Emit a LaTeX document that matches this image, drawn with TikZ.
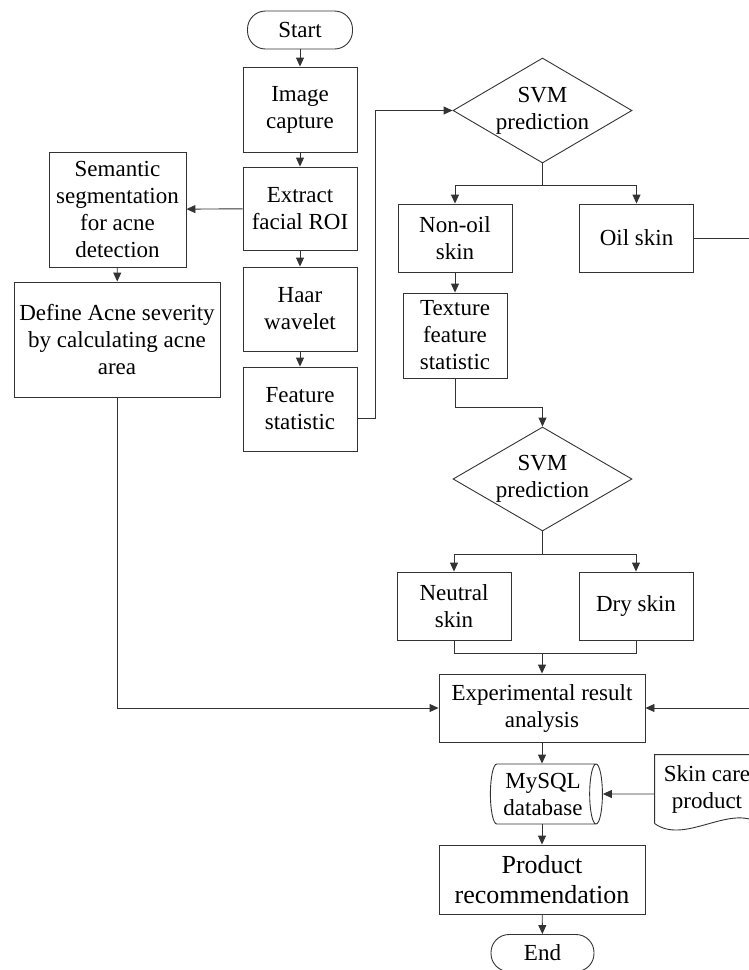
\documentclass[tikz,border=0pt]{standalone}
\usepackage{fontspec}
\setmainfont{Liberation Serif}
\usetikzlibrary{shapes.geometric,arrows.meta}
\tikzset{
  txt/.style={font=\fontsize{23}{27}\selectfont},
  block/.style={draw, rectangle, txt, align=center, inner sep=0pt, minimum width=114pt, minimum height=84pt},
  wideblock/.style={block, minimum width=206pt},
  term/.style={draw, rectangle, txt, rounded corners=18pt, inner sep=0pt, minimum width=105pt, minimum height=38pt},
  decision/.style={draw, diamond, txt, aspect=1.7, align=center, inner sep=0pt, minimum width=179pt, minimum height=105pt},
  store/.style={draw, cylinder, txt, align=center, inner sep=0pt, shape aspect=0.3, minimum width=60pt, minimum height=112pt}
}
\begin{document}
\begin{tikzpicture}[x=1pt, y=-1pt, line width=0.9pt, draw=black!80, >={Triangle[length=9pt,width=8pt]}]
\useasboundingbox (0,0) rectangle (748,970);
% 主流程
\node[term] (start) at (300,30) {Start};
\node[block, minimum height=85pt] (capture) at (300,109.5) {Image\\capture};
\node[block, minimum height=83pt] (extract) at (300,208.5) {Extract\\facial ROI};
\node[block] (haar) at (300,309) {Haar\\wavelet};
\node[block] (feat) at (300,409) {Feature\\statistic};
% 痤疮分支
\node[block, minimum width=137pt, minimum height=115pt] (semseg) at (117.5,209.5) {Semantic\\segmentation\\for acne\\detection};
\node[wideblock, minimum height=115pt] (define) at (117,339.5) {Define Acne severity\\by calculating acne\\area};
% 肤质判断
\node[decision] (svm1) at (542.5,110.5) {SVM\\prediction};
\node[block, minimum height=68pt] (nonoil) at (455,238) {Non-oil\\skin};
\node[block, minimum height=68pt] (oil) at (636.5,238) {Oil skin};
\node[block, minimum width=104pt, minimum height=85pt] (texture) at (455,335.5) {Texture\\feature\\statistic};
\node[decision, minimum height=104pt] (svm2) at (542.5,479) {SVM\\prediction};
\node[block, minimum height=68pt] (neutral) at (454,606) {Neutral\\skin};
\node[block, minimum height=68pt] (dry) at (636,606) {Dry skin};
% 结果与推荐
\node[wideblock, minimum height=68pt] (exper) at (542,708) {Experimental result\\analysis};
\node[store] (mysql) at (543,794) {MySQL\\database};
\node[txt, align=center, minimum width=104pt, minimum height=68pt, inner sep=0pt] (skin) at (707,789) {Skin care\\product};
\node[wideblock, minimum height=69pt, font=\fontsize{26}{30}\selectfont] (product) at (542,879.5) {Product\\recommendation};
\node[term, minimum width=103pt, minimum height=37pt] (endn) at (542.5,953) {End};
% 文档形状
\draw (skin.south west) -- (skin.north west) -- (skin.north east) -- (skin.south east)
  .. controls +(-30,-20) and +(30,22) .. (skin.south west);
% 连线
\draw[->] (start) -- (capture);
\draw[->] (capture) -- (extract);
\draw[->] (extract) -- (haar);
\draw[->] (haar) -- (feat);
\draw[->] (extract) -- (semseg);
\draw[->] (semseg) -- (define);
\draw[->] ([yshift=-9pt]feat.east) -- ++(18,0) |- (svm1.west);
\draw[->] (svm1.south) -- ++(0,22) -| (nonoil.north);
\draw[->] (svm1.south) -- ++(0,22) -| (oil.north);
\draw[->] (nonoil) -- (texture);
\draw[->] (texture.south) -- ++(0,29) -| (svm2.north);
\draw[->] (svm2.south) -- ++(0,23) -| (neutral.north);
\draw[->] (svm2.south) -- ++(0,23) -| (dry.north);
\draw (neutral.south) -- ++(0,13) coordinate (jl) -| (dry.south);
\draw[->] (jl -| exper.north) -- (exper.north);
\draw[->] (define.south) |- (exper.west);
\draw[->] (oil.east) -- ++(64,0) |- (exper.east);
\draw[->] (exper.south) -- (exper.south |- mysql.north);
\draw[->] ([yshift=-5pt]skin.west) -- (mysql.east);
\draw[->] (exper.south |- mysql.south) -- (product.north);
\draw[->] (product) -- (endn);
\end{tikzpicture}
\end{document}
